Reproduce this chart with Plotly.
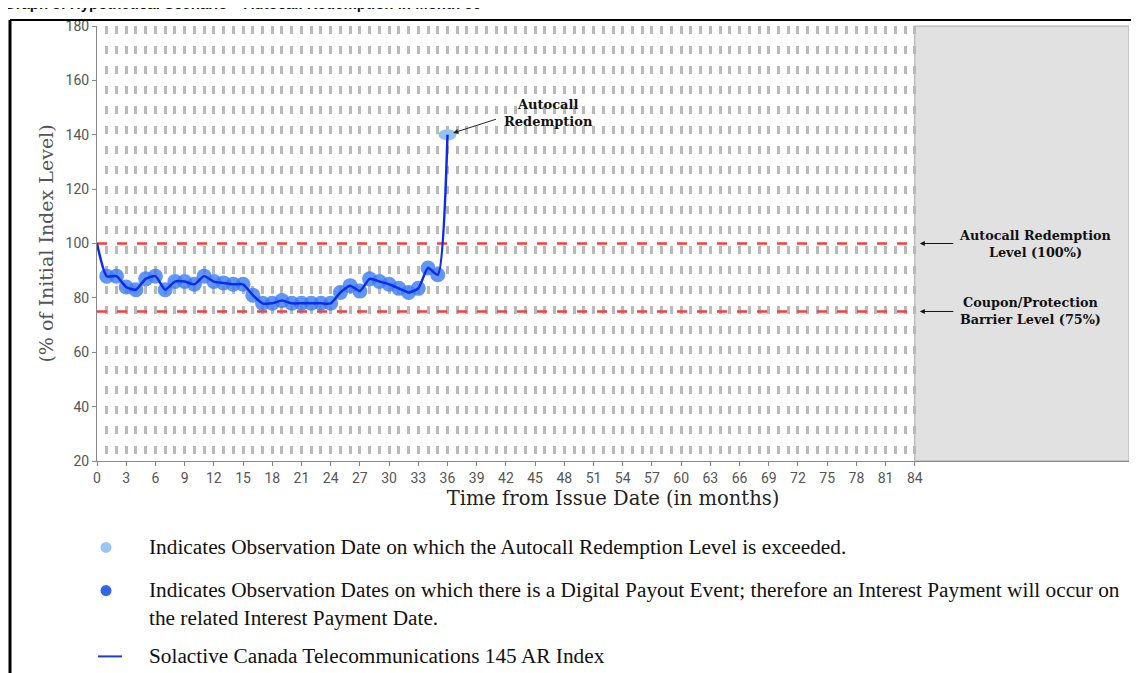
import plotly.graph_objects as go

# ---------------- data ----------------
months = list(range(0, 37))
index_level = [100, 88, 88, 84, 83, 87, 88, 83, 86, 86, 85, 88, 86, 85.5, 85, 85,
               81, 78, 78, 79, 78, 78, 78, 78, 78, 82, 84.5, 82.5, 87, 86, 85, 83.5,
               82, 83.5, 91, 88.5, 140]
payout_months = months[1:36]
payout_levels = index_level[1:36]
autocall_month = 36
autocall_level = 140
autocall_redemption_level = 100
coupon_barrier_level = 75
term_months = 84
x_max = 106
x_tick_vals = list(range(0, 85, 3))
grid_months = list(range(0, 85))
y_tick_vals = list(range(20, 181, 20))

# ---------------- geometry (page pixels; page body has an 8px margin) ----------------
PAGE_W, PAGE_H = 1139, 673
OFF = 8
W, H = PAGE_W - OFF, PAGE_H - OFF
PLOT_L, PLOT_R, PLOT_T, PLOT_B = 97, 1129, 18, 461
ML = PLOT_L - OFF
MT = PLOT_T - OFF
MR = PAGE_W - PLOT_R
MB = PAGE_H - PLOT_B
PW = PLOT_R - PLOT_L
PH = PLOT_B - PLOT_T


def px_x(X):
    return (X - PLOT_L) / PW


def px_y(Y):
    return (PLOT_B - Y) / PH


SERIF = "DejaVu Serif"
TIMES = "Liberation Serif"

fig = go.Figure()

# digital payout observation markers (band)
fig.add_trace(go.Scatter(
    x=payout_months, y=payout_levels, mode="markers",
    marker=dict(size=15, color="rgba(58,122,245,0.8)", line=dict(width=0)),
    hoverinfo="skip", showlegend=False))

# index line
fig.add_trace(go.Scatter(
    x=months, y=index_level, mode="lines",
    line=dict(color="#0b2cf0", width=2.5, shape="spline", smoothing=0.6),
    showlegend=False))

shapes = []
# shaded area after maturity
shapes.append(dict(type="rect", xref="x", yref="paper", x0=term_months, x1=x_max,
                   y0=0, y1=1, fillcolor="#e1e1e1", line=dict(color="#a8a8a8", width=1),
                   layer="below"))
# level lines
for lvl in (autocall_redemption_level, coupon_barrier_level):
    shapes.append(dict(type="line", xref="x", yref="y", x0=0, x1=term_months,
                       y0=lvl, y1=lvl, line=dict(color="#ff3b3b", width=2.5, dash="10px,10px"),
                       layer="between"))
# autocall ellipse
shapes.append(dict(type="circle", xref="x", yref="y", xsizemode="pixel", ysizemode="pixel",
                   xanchor=autocall_month, yanchor=autocall_level,
                   x0=-9, x1=9, y0=-5.5, y1=5.5,
                   fillcolor="#93c2f5", line=dict(width=0), layer="between"))
# outer frame lines
shapes.append(dict(type="line", xref="paper", yref="paper", x0=px_x(10), x1=px_x(PAGE_W + 5),
                   y0=px_y(12), y1=px_y(12), line=dict(color="black", width=2), layer="above"))
shapes.append(dict(type="line", xref="paper", yref="paper", x0=px_x(10), x1=px_x(10),
                   y0=px_y(12), y1=px_y(PAGE_H + 5), line=dict(color="black", width=3), layer="above"))
# legend symbols
shapes.append(dict(type="circle", xref="paper", yref="paper", xsizemode="pixel", ysizemode="pixel",
                   xanchor=px_x(106), yanchor=px_y(549), x0=-5.5, x1=5.5, y0=-5.5, y1=5.5,
                   fillcolor="#99c6f6", line=dict(width=0)))
shapes.append(dict(type="circle", xref="paper", yref="paper", xsizemode="pixel", ysizemode="pixel",
                   xanchor=px_x(106), yanchor=px_y(593), x0=-5.5, x1=5.5, y0=-5.5, y1=5.5,
                   fillcolor="#3164ec", line=dict(width=0)))
shapes.append(dict(type="line", xref="paper", yref="paper", x0=px_x(98), x1=px_x(122),
                   y0=px_y(660), y1=px_y(660), line=dict(color="#1a3ce8", width=2)))

annotations = []
# autocall label + arrow
annotations.append(dict(x=46.4, y=148.0, xref="x", yref="y", text="<b>Autocall</b><br><b>Redemption</b>",
                        showarrow=False, font=dict(family=SERIF, size=13, color="#111"),
                        xanchor="center", yanchor="middle"))
annotations.append(dict(x=autocall_month, y=autocall_level, xref="x", yref="y", text="",
                        showarrow=True, arrowhead=2, arrowsize=1, arrowwidth=1, arrowcolor="#222",
                        ax=50, ay=-16, standoff=6))
# right-side labels
annotations.append(dict(x=96.4, y=autocall_redemption_level, xref="x", yref="y",
                        text="<b>Autocall Redemption</b><br><b>Level (100%)</b>", showarrow=False,
                        font=dict(family=SERIF, size=12.8, color="#111"), xanchor="center", yanchor="middle"))
annotations.append(dict(x=95.9, y=coupon_barrier_level, xref="x", yref="y",
                        text="<b>Coupon/Protection</b><br><b>Barrier Level (75%)</b>", showarrow=False,
                        font=dict(family=SERIF, size=12.8, color="#111"), xanchor="center", yanchor="middle"))
for lvl in (autocall_redemption_level, coupon_barrier_level):
    annotations.append(dict(x=term_months, y=lvl, xref="x", yref="y", text="", showarrow=True,
                            arrowhead=2, arrowsize=1, arrowwidth=1, arrowcolor="#111",
                            ax=40, ay=0, standoff=5))
# legend texts
LEG_FONT = dict(family=TIMES, size=21.3, color="#111")
annotations.append(dict(x=px_x(147), y=px_y(549), xref="paper", yref="paper",
                        text="Indicates Observation Date on which the Autocall Redemption Level is exceeded.",
                        showarrow=False, xanchor="left", yanchor="middle", font=LEG_FONT))
annotations.append(dict(x=px_x(147), y=px_y(607), xref="paper", yref="paper",
                        text=("Indicates Observation Dates on which there is a Digital Payout Event; "
                              "therefore an Interest Payment will occur on<br>the related Interest Payment Date."),
                        showarrow=False, xanchor="left", yanchor="middle", align="left", font=LEG_FONT))
annotations.append(dict(x=px_x(147), y=px_y(660), xref="paper", yref="paper",
                        text="Solactive Canada Telecommunications 145 AR Index",
                        showarrow=False, xanchor="left", yanchor="middle", font=LEG_FONT))
# title at the very top (cut by the page edge as in the source)
annotations.append(dict(x=px_x(2), y=px_y(6), xref="paper", yref="paper",
                        text="<b>Graph 3: Hypothetical Scenario \u2013 Autocall Redemption in Month 36</b>",
                        showarrow=False, xanchor="left", yanchor="bottom",
                        font=dict(family="Liberation Sans", size=15, color="#111")))

grid_style = dict(gridcolor="#b9b9b9", gridwidth=3, griddash="8px,12px")

fig.update_layout(
    width=W, height=H,
    margin=dict(l=ML, r=MR, t=MT, b=MB),
    paper_bgcolor="white", plot_bgcolor="white",
    shapes=shapes, annotations=annotations,
    showlegend=False,
    xaxis=dict(range=[0, x_max], tickmode="array", tickvals=x_tick_vals,
               ticktext=[str(v) for v in x_tick_vals],
               showgrid=True, **grid_style,
               minor=dict(tickmode="array", tickvals=grid_months, showgrid=True, ticks="", **grid_style),
               ticks="outside", ticklen=4, tickcolor="#888", tickwidth=1,
               showline=True, linecolor="#888", linewidth=1, zeroline=False,
               tickfont=dict(family="Roboto", size=14, color="#555"),
               title=dict(text="Time from Issue Date (in months)", standoff=6,
                          font=dict(family=SERIF, size=19.5, color="#222"))),
    yaxis=dict(range=[20, 180], tickmode="array", tickvals=y_tick_vals,
               showgrid=False, zeroline=False,
               ticks="outside", ticklen=4, tickcolor="#888", tickwidth=1,
               showline=True, linecolor="#888", linewidth=1,
               tickfont=dict(family="Roboto", size=14, color="#555"),
               title=dict(text="(% of Initial Index Level)", standoff=6,
                          font=dict(family=SERIF, size=19, color="#555"))),
)

fig.write_html("out.html")
